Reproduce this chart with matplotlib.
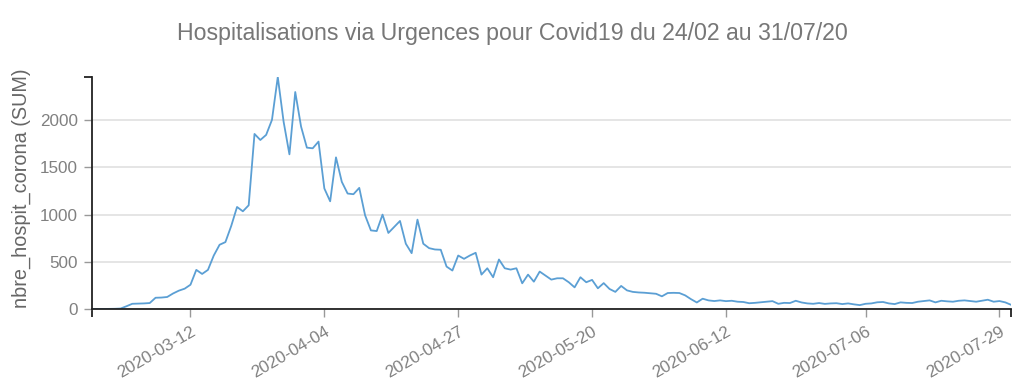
import numpy as np
import pandas as pd
import matplotlib
matplotlib.use("Agg")
import matplotlib.pyplot as plt
import matplotlib.dates as mdates

plt.rcParams['font.family'] = ['Liberation Sans', 'DejaVu Sans']

# daily values, 2020-02-24 .. 2020-07-31
hospit = [
    0, 0, 1, 2, 3, 6, 30, 56, 58, 60,
    64, 120, 122, 128, 165, 195, 216, 258, 415, 372,
    415, 567, 681, 709, 880, 1081, 1035, 1099, 1854, 1790,
    1844, 2003, 2457, 1984, 1638, 2298, 1932, 1709, 1702, 1773,
    1277, 1141, 1606, 1347, 1223, 1216, 1283, 993, 833, 826,
    1000, 806, 869, 933, 692, 592, 947, 692, 645, 631,
    628, 450, 408, 567, 532, 567, 596, 365, 432, 337,
    525, 432, 418, 432, 273, 365, 290, 397, 355, 312,
    326, 326, 284, 230, 337, 284, 309, 220, 275, 213,
    182, 245, 198, 182, 176, 173, 168, 162, 135, 170,
    172, 170, 145, 105, 70, 110, 92, 85, 92, 84,
    88, 78, 75, 62, 66, 72, 78, 84, 56, 66,
    64, 88, 70, 60, 56, 64, 55, 60, 62, 53,
    60, 50, 42, 56, 60, 72, 75, 60, 53, 71,
    66, 64, 78, 85, 92, 71, 88, 82, 78, 88,
    92, 85, 78, 88, 99, 78, 85, 71, 45,
]
dates = pd.date_range('2020-02-24', periods=len(hospit), freq='D')
tick_dates = pd.to_datetime(['2020-03-12', '2020-04-04', '2020-04-27', '2020-05-20',
                             '2020-06-12', '2020-07-06', '2020-07-29'])
y_ticks = [0, 500, 1000, 1500, 2000]

title = "Hospitalisations via Urgences pour Covid19 du 24/02 au 31/07/20"
ylabel = "nbre_hospit_corona (SUM)"

fig = plt.figure(figsize=(10.24, 3.83), dpi=100)
ax = fig.add_axes([0.0894, 0.193, 0.898, 0.606])

ax.plot(dates, hospit, color='#5b9fd4', lw=1.3)

ax.set_xlim(dates[0], dates[-1])
ax.set_ylim(0, max(hospit))
ax.set_yticks(y_ticks)
ax.set_xticks(tick_dates)
ax.xaxis.set_major_formatter(mdates.DateFormatter('%Y-%m-%d'))
ax.grid(axis='y', color='#e3e3e3', lw=1.3)
ax.set_axisbelow(True)

for s in ['top', 'right']:
    ax.spines[s].set_visible(False)
for s in ['left', 'bottom']:
    ax.spines[s].set_color('#222222')
    ax.spines[s].set_linewidth(1.3)

ax.tick_params(axis='both', color='#999999', length=6, width=1, labelcolor='#808080', labelsize=12.3)
ax.tick_params(axis='y', pad=4)
ax.tick_params(axis='x', pad=5)
plt.setp(ax.get_xticklabels(), rotation=30, ha='right', rotation_mode='anchor')

# outer ticks at the ends of the axis lines
ax.set_xticks([dates[0], dates[-1]], minor=True)
ax.set_yticks([max(hospit)], minor=True)
ax.tick_params(which='minor', color='#222222', length=6, width=1.3)
ax.xaxis.set_minor_formatter(plt.NullFormatter())
ax.yaxis.set_minor_formatter(plt.NullFormatter())

ax.set_ylabel(ylabel, fontsize=14.3, color='#666666', labelpad=7)
ax.yaxis.set_label_coords(-0.066, 0.52)
fig.text(0.5, 0.913, title, ha='center', va='center', fontsize=16.7, color='#777777')

fig.savefig('out.png', dpi=100)
